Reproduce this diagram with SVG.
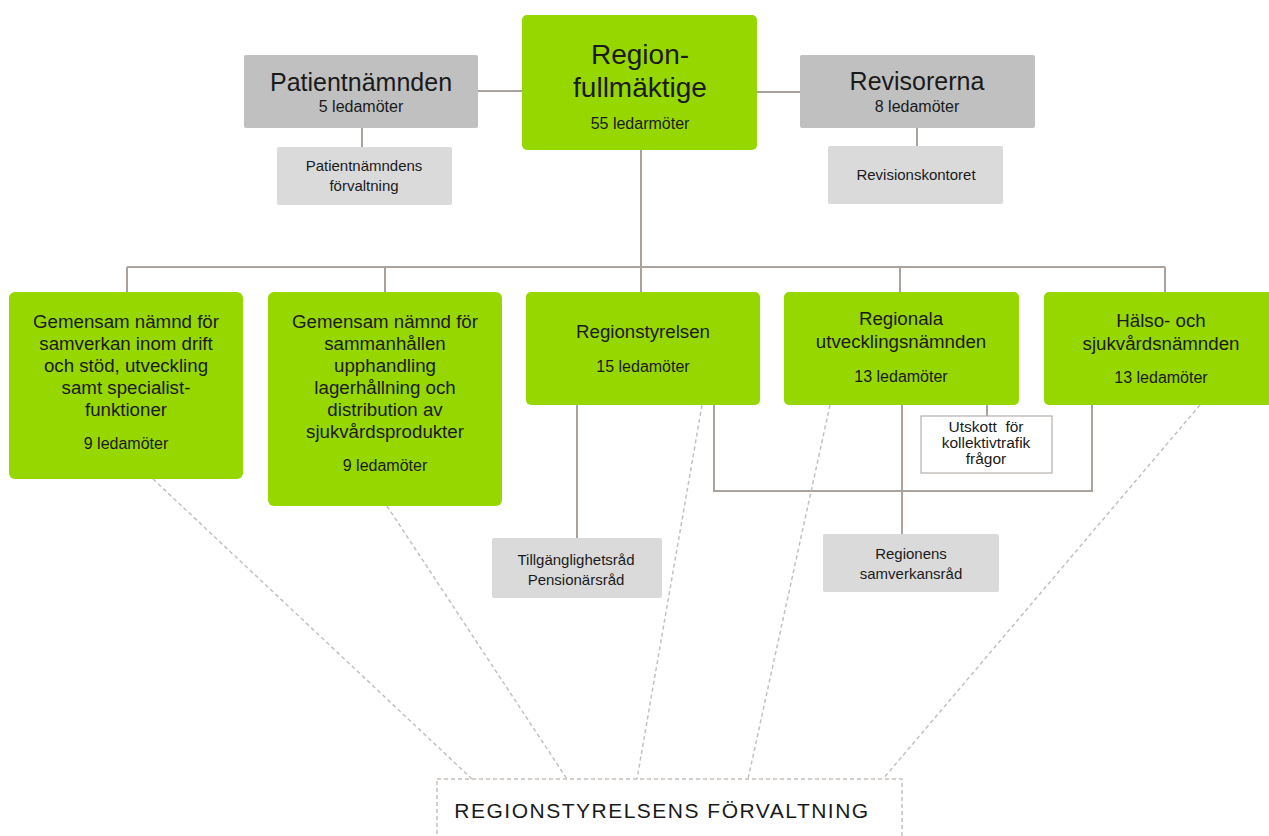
<svg xmlns="http://www.w3.org/2000/svg" width="1269" height="836" viewBox="0 0 1269 836">
<style>
text{font-family:"Liberation Sans",Arial,sans-serif;fill:#1a1a1a;text-anchor:middle}
.green{fill:#97d700}
.gray{fill:#c0c0c0}
.light{fill:#dadada}
.conn{stroke:#aaa29c;stroke-width:2;fill:none}
.dash{stroke:#c6c0bb;stroke-width:1.5;stroke-dasharray:4 3;fill:none}
.big{font-size:28px}
.h{font-size:25px}
.t{font-size:18.7px}
.s{font-size:16px}
.xs{font-size:15px}
</style>
<rect width="1269" height="836" fill="#ffffff"/>
<g id="connectors">
<path class="conn" d="M478 91H522M757 92H800M362 128V147M917 128V146M641 150V267M127 267H1165M127 267V292M385 267V292M641 267V292M900 267V292M1165 267V292"/>
<path class="conn" d="M577 405V538M714 405V491H1092V405M902 405V534M987 405V416"/>
<path class="dash" d="M153 479L472 779M387 506L567 779M702 405L637 779M830 405L748 779M1200 405L883 779"/>
</g>
<g id="regionfullmaktige">
<rect class="green" x="522" y="15" width="235" height="135" rx="5"/>
<text class="big" x="640" y="64">Region-</text>
<text class="big" x="640" y="97">fullmäktige</text>
<text class="s" x="640" y="129">55 ledarmöter</text>
</g>
<g id="patientnamnden">
<rect class="gray" x="244" y="55" width="234" height="73" rx="2"/>
<text class="h" x="361" y="91">Patientnämnden</text>
<text class="s" x="361" y="112">5 ledamöter</text>
</g>
<g id="revisorerna">
<rect class="gray" x="800" y="55" width="235" height="73" rx="2"/>
<text class="h" x="917" y="90">Revisorerna</text>
<text class="s" x="917" y="112">8 ledamöter</text>
</g>
<g id="patientnamndens-forvaltning">
<rect class="light" x="277" y="147" width="175" height="58" rx="2"/>
<text class="xs" x="364" y="171">Patientnämndens</text>
<text class="xs" x="364" y="191">förvaltning</text>
</g>
<g id="revisionskontoret">
<rect class="light" x="828" y="146" width="175" height="58" rx="2"/>
<text class="xs" x="916" y="180">Revisionskontoret</text>
</g>
<g id="gemensam-drift">
<rect class="green" x="9" y="292" width="234" height="187" rx="6"/>
<text class="t" x="126" y="328">Gemensam nämnd för</text>
<text class="t" x="126" y="350">samverkan inom drift</text>
<text class="t" x="126" y="372">och stöd, utveckling</text>
<text class="t" x="126" y="394">samt specialist-</text>
<text class="t" x="126" y="416">funktioner</text>
<text class="s" x="126" y="449">9 ledamöter</text>
</g>
<g id="gemensam-upphandling">
<rect class="green" x="268" y="292" width="234" height="214" rx="6"/>
<text class="t" x="385" y="328">Gemensam nämnd för</text>
<text class="t" x="385" y="350">sammanhållen</text>
<text class="t" x="385" y="372">upphandling</text>
<text class="t" x="385" y="394">lagerhållning och</text>
<text class="t" x="385" y="416">distribution av</text>
<text class="t" x="385" y="438">sjukvårdsprodukter</text>
<text class="s" x="385" y="471">9 ledamöter</text>
</g>
<g id="regionstyrelsen">
<rect class="green" x="526" y="292" width="234" height="113" rx="5"/>
<text class="t" x="643" y="338">Regionstyrelsen</text>
<text class="s" x="643" y="372">15 ledamöter</text>
</g>
<g id="regionala-utvecklingsnamnden">
<rect class="green" x="784" y="292" width="235" height="113" rx="5"/>
<text class="t" x="901" y="325">Regionala</text>
<text class="t" x="901" y="348">utvecklingsnämnden</text>
<text class="s" x="901" y="382">13 ledamöter</text>
</g>
<g id="halso-sjukvardsnamnden">
<rect class="green" x="1044" y="292" width="234" height="113" rx="5"/>
<text class="t" x="1161" y="327">Hälso- och</text>
<text class="t" x="1161" y="350">sjukvårdsnämnden</text>
<text class="s" x="1161" y="383">13 ledamöter</text>
</g>
<g id="utskott">
<rect x="921" y="416" width="131" height="57" fill="#ffffff" stroke="#b5b0ac" stroke-width="1.2"/>
<text x="986" y="432" font-size="15.5">Utskott&#160; för</text>
<text x="986" y="448" font-size="15.5">kollektivtrafik</text>
<text x="986" y="464" font-size="15.5">frågor</text>
</g>
<g id="tillganglighetsrad">
<rect class="light" x="492" y="538" width="170" height="60" rx="2"/>
<text class="xs" x="576" y="565">Tillgänglighetsråd</text>
<text class="xs" x="576" y="585">Pensionärsråd</text>
</g>
<g id="samverkansrad">
<rect class="light" x="823" y="534" width="176" height="58" rx="2"/>
<text class="xs" x="911" y="559">Regionens</text>
<text class="xs" x="911" y="579">samverkansråd</text>
</g>
<g id="regionstyrelsens-forvaltning">
<rect x="437" y="779" width="465" height="70" fill="none" stroke="#c6c0bb" stroke-width="1.5" stroke-dasharray="4 3"/>
<text x="662" y="818" font-size="21" letter-spacing="1.5">REGIONSTYRELSENS FÖRVALTNING</text>
</g>
</svg>
